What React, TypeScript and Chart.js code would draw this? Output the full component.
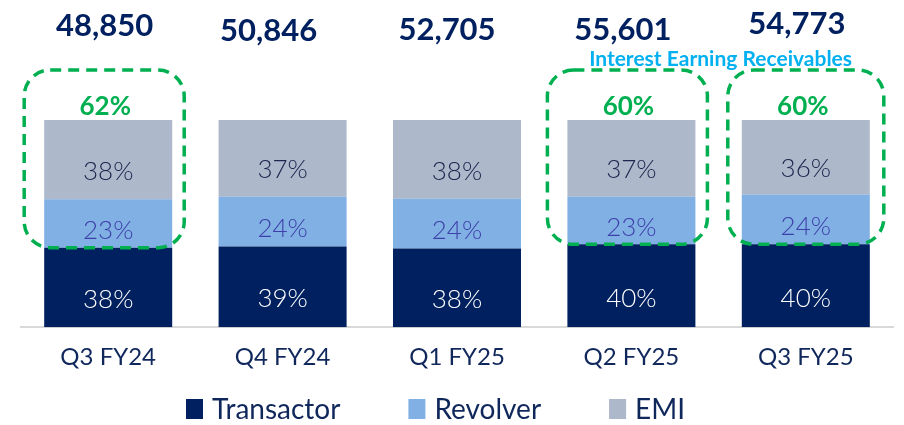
import React, { useEffect, useRef } from "react";
import { Chart, registerables } from "chart.js";

Chart.register(...registerables);

const categories = ["Q3 FY24", "Q4 FY24", "Q1 FY25", "Q2 FY25", "Q3 FY25"];
const transactor = [38.4, 39, 38, 40, 40];
const revolver = [23.3, 24, 24, 23, 24];
const emi = [38.3, 37, 38, 37, 36];
const totals = ["48,850", "50,846", "52,705", "55,601", "54,773"];
const interestEarning = ["62%", "", "", "60%", "60%"];
const seriesNames = ["Transactor", "Revolver", "EMI"];

const FONT = "Lato, 'Open Sans', sans-serif";
const NAVY = "#002060";
const TEXT_NAVY = "#10275c";
const COLORS = ["#002060", "#80b0e4", "#adb8ca"];
const LABEL_COLORS = ["#ffffff", "#3d3fa8", "#20264f"];
const GREEN = "#00b050";

// layout tweaks (pixels)
const totalDx = [-3.5, -14, -10, -8.5, -9];
const totalDy = [-94, -89, -90.5, -90.5, -96];
const boxPadL = [20, 0, 0, 20, 14];
const boxPadR = [12, 0, 0, 12, 14];

const overlay = {
  id: "overlay",
  afterDatasetsDraw(chart: any) {
    const ctx = chart.ctx as CanvasRenderingContext2D;
    const ys = chart.scales.y;
    ctx.save();
    // segment labels
    chart.data.datasets.forEach((ds: any, di: number) => {
      const meta = chart.getDatasetMeta(di);
      meta.data.forEach((el: any, i: number) => {
        const p = el.getProps(["x", "y", "base"], true);
        const h = p.base - p.y;
        ctx.font = `300 26px ${FONT}`;
        ctx.fillStyle = LABEL_COLORS[di];
        ctx.textAlign = "center";
        ctx.textBaseline = "middle";
        ctx.fillText(Math.round(ds.data[i]) + "%", p.x, (p.y + p.base) / 2 + h * 0.15);
      });
    });
    const meta0 = chart.getDatasetMeta(0);
    const topY = ys.getPixelForValue(100);
    // totals
    meta0.data.forEach((el: any, i: number) => {
      const p = el.getProps(["x", "y", "width"], true);
      ctx.font = `bold 31px ${FONT}`;
      ctx.fillStyle = NAVY;
      ctx.textAlign = "center";
      ctx.textBaseline = "middle";
      ctx.fillText(totals[i], p.x + totalDx[i], topY + totalDy[i]);
    });
    // highlight boxes
    meta0.data.forEach((el: any, i: number) => {
      if (!interestEarning[i]) return;
      const p = el.getProps(["x", "y", "width"], true);
      const left = p.x - p.width / 2 - boxPadL[i];
      const right = p.x + p.width / 2 + boxPadR[i];
      const top = topY - 50;
      const bottom = p.y;
      ctx.setLineDash([11, 7]);
      ctx.lineWidth = 3.5;
      ctx.strokeStyle = GREEN;
      ctx.beginPath();
      (ctx as any).roundRect(left, top, right - left, bottom - top, 26);
      ctx.stroke();
      ctx.setLineDash([]);
      ctx.font = `bold 26px ${FONT}`;
      ctx.fillStyle = GREEN;
      ctx.textAlign = "center";
      ctx.textBaseline = "middle";
      ctx.fillText(interestEarning[i], p.x - 3, topY - 13);
    });
    // Interest Earning Receivables caption
    const a = meta0.data[3].getProps(["x"], true).x;
    const b = meta0.data[4].getProps(["x"], true).x;
    ctx.font = `bold 21px ${FONT}`;
    ctx.fillStyle = "#00b0f0";
    ctx.textAlign = "center";
    ctx.textBaseline = "middle";
    ctx.fillText("Interest Earning Receivables", (a + b) / 2 + 2, topY - 61);

    // legend
    ctx.font = `28px ${FONT}`;
    ctx.textAlign = "left";
    ctx.textBaseline = "alphabetic";
    let lx = 186;
    seriesNames.forEach((name, k) => {
      ctx.fillStyle = COLORS[k];
      ctx.fillRect(lx, 399, 17, 20);
      ctx.fillStyle = TEXT_NAVY;
      ctx.fillText(name, lx + 26, 419);
      lx += 26 + ctx.measureText(name).width + 68;
    });
    ctx.restore();
  },
};

export default function App() {
  const ref = useRef<HTMLCanvasElement>(null);
  useEffect(() => {
    document.body.style.margin = "0";
    const chart = new Chart(ref.current as HTMLCanvasElement, {
      type: "bar",
      data: {
        labels: categories,
        datasets: [
          { label: seriesNames[0], data: transactor, backgroundColor: COLORS[0] },
          { label: seriesNames[1], data: revolver, backgroundColor: COLORS[1] },
          { label: seriesNames[2], data: emi, backgroundColor: COLORS[2] },
        ],
      },
      options: {
        animation: false,
        responsive: true,
        maintainAspectRatio: false,
        layout: { padding: { top: 120, left: 21, right: 11, bottom: 37 } },
        datasets: { bar: { categoryPercentage: 1, barPercentage: 0.734 } },
        plugins: { legend: { display: false }, tooltip: { enabled: false } },
        scales: {
          x: {
            stacked: true,
            grid: { display: false, drawTicks: false },
            border: { display: true, color: "#d9d9d9", width: 2 },
            ticks: { color: TEXT_NAVY, font: { family: FONT, size: 24 }, padding: 16 },
          },
          y: { stacked: true, display: false, min: 0, max: 100 },
        },
      },
      plugins: [overlay],
    });
    return () => chart.destroy();
  }, []);
  return (
    <div style={{ position: "relative", width: 904, height: 425 }}>
      <canvas ref={ref} />
    </div>
  );
}
